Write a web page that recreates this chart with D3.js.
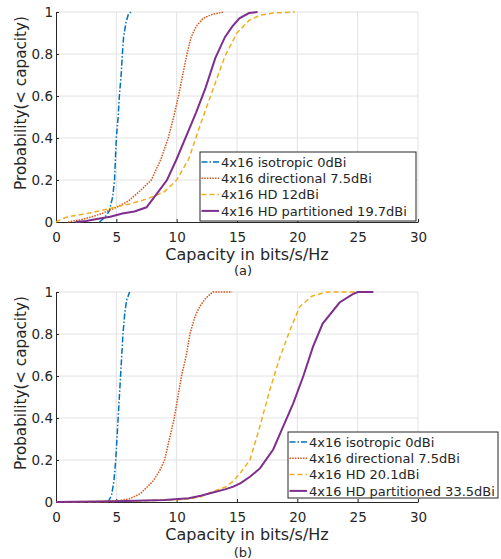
<!DOCTYPE html>
<html><head><meta charset="utf-8">
<script src="https://cdn.jsdelivr.net/npm/d3@7"></script>
<style>body{margin:0;background:#fff}svg{display:block}text{font-family:"DejaVu Sans",Verdana,sans-serif;fill:#262626}</style>
</head><body><svg id="c" width="501" height="559"></svg>
<script>
const xTicks = [0,5,10,15,20,25,30];
const yTicks = [0,0.2,0.4,0.6,0.8,1];
const yTickLabels = ["0","0.2","0.4","0.6","0.8","1"];
const xLabel = "Capacity in bits/s/Hz";
const yLabel = "Probability(< capacity)";
const panelTags = ["(a)","(b)"];
const namesA = ["4x16 isotropic 0dBi","4x16 directional 7.5dBi","4x16 HD 12dBi","4x16 HD partitioned 19.7dBi"];
const namesB = ["4x16 isotropic 0dBi","4x16 directional 7.5dBi","4x16 HD 20.1dBi","4x16 HD partitioned 33.5dBi"];
// [capacity, probability]
const isoA = [[3.6,0],[4.0,0.02],[4.4,0.05],[4.7,0.12],[4.85,0.2],[5.0,0.4],[5.15,0.5],[5.25,0.6],[5.4,0.7],[5.5,0.8],[5.6,0.88],[5.8,0.95],[6.0,0.99],[6.2,1]];
const dirA = [[1.0,0],[2,0.01],[3,0.025],[4,0.045],[5,0.07],[6,0.1],[7,0.15],[7.9,0.2],[8.7,0.3],[9.3,0.4],[9.75,0.5],[10.15,0.6],[10.5,0.7],[10.85,0.8],[11.2,0.88],[11.6,0.93],[12.2,0.97],[13,0.99],[13.9,1]];
const hdA = [[0,0],[0.5,0.015],[1,0.025],[2,0.035],[3,0.045],[4,0.058],[5,0.072],[6,0.085],[7,0.1],[8,0.12],[9,0.145],[10,0.2],[11,0.3],[12,0.47],[13,0.63],[14,0.79],[15,0.9],[15.5,0.93],[16,0.96],[16.9,0.985],[18,0.995],[19.8,1]];
const purpA = [[1.6,0],[2.5,0.005],[3.5,0.015],[4.5,0.025],[5.5,0.04],[6.5,0.05],[7.5,0.07],[8.3,0.13],[9.2,0.2],[10,0.3],[10.8,0.41],[11.6,0.52],[12.4,0.64],[13.2,0.78],[14,0.88],[14.6,0.93],[15.2,0.97],[16,0.995],[16.7,1]];
const isoB = [[4.3,0],[4.6,0.03],[4.8,0.1],[4.95,0.2],[5.15,0.4],[5.35,0.6],[5.55,0.8],[5.7,0.9],[5.85,0.96],[6.1,1]];
const dirB = [[0,0],[3,0.001],[5,0.005],[6.1,0.015],[7,0.04],[8.05,0.1],[8.6,0.15],[9.0,0.2],[9.4,0.3],[9.8,0.4],[10.1,0.5],[10.4,0.6],[10.8,0.7],[11.1,0.8],[11.5,0.88],[11.9,0.93],[12.4,0.97],[13,1],[14.6,1]];
const hdB = [[0,0],[5,0.003],[10,0.01],[11,0.015],[12,0.025],[13,0.05],[14,0.07],[14.7,0.1],[15.3,0.14],[16.07,0.2],[16.9,0.36],[17.7,0.53],[18.56,0.69],[19.4,0.82],[20.2,0.93],[21.2,0.98],[22.4,1],[24.9,1]];
const purpB = [[0,0],[5,0.004],[9,0.01],[11,0.018],[12,0.03],[13,0.045],[14,0.06],[14.7,0.073],[15.3,0.09],[16.07,0.12],[16.9,0.16],[18,0.25],[18.83,0.36],[19.66,0.47],[20.5,0.6],[21.3,0.74],[22.1,0.85],[23.5,0.95],[24.6,0.99],[25,1],[26.3,1]];

const colors = ["#0072BD","#D95319","#EDB120","#7E2F8E"];
const dashes = ["6,2,1.5,2","1.5,1.2","5,3",null];
const widths = [1.5,1.5,1.5,2];

const svg = d3.select("#c");
const panels = [
  {top:12, bottom:222, series:[isoA,dirA,hdA,purpA], names:namesA, tag:panelTags[0], tagDy:53, legend:{x:200,y:152,w:216,h:69}},
  {top:292, bottom:502, series:[isoB,dirB,hdB,purpB], names:namesB, tag:panelTags[1], tagDy:55, legend:{x:288,y:432,w:210,h:66}}
];
panels.forEach(p => {
  const x = d3.scaleLinear().domain([0,30]).range([56,418]);
  const y = d3.scaleLinear().domain([0,1]).range([p.bottom,p.top]);
  const g = svg.append("g");
  g.selectAll(".gx").data(xTicks.slice(1)).join("line")
    .attr("x1",d=>x(d)).attr("x2",d=>x(d)).attr("y1",p.top).attr("y2",p.bottom)
    .attr("stroke","#e2e2e2").attr("stroke-width",1);
  g.selectAll(".gy").data(yTicks.slice(1)).join("line")
    .attr("x1",x(0)).attr("x2",x(30)).attr("y1",d=>y(d)).attr("y2",d=>y(d))
    .attr("stroke","#e2e2e2").attr("stroke-width",1);
  const xa = g.append("g").attr("transform",`translate(0,${p.bottom})`)
    .call(d3.axisBottom(x).tickValues(xTicks).tickSize(-3).tickPadding(10).tickSizeOuter(0));
  const ya = g.append("g").attr("transform",`translate(${x(0)},0)`)
    .call(d3.axisLeft(y).tickValues(yTicks).tickFormat((d,i)=>yTickLabels[i]).tickSize(-3).tickPadding(3).tickSizeOuter(0));
  [xa,ya].forEach(a=>{
    a.select(".domain").attr("stroke","#262626");
    a.selectAll(".tick line").attr("stroke","#262626");
    a.selectAll("text").attr("fill","#262626").style("font-size","13.5px").attr("font-family",null);
  });
  const line = d3.line().x(d=>x(d[0])).y(d=>y(d[1]));
  p.series.forEach((s,i)=>{
    g.append("path").datum(s).attr("d",line).attr("fill","none")
      .attr("stroke",colors[i]).attr("stroke-width",widths[i])
      .attr("stroke-dasharray",dashes[i]);
  });
  g.append("text").attr("x",247).attr("y",p.bottom+38).attr("text-anchor","middle").style("font-size","16px").text(xLabel);
  g.append("text").attr("x",243).attr("y",p.bottom+p.tagDy).attr("text-anchor","middle").style("font-size","13px").text(p.tag);
  g.append("text").attr("transform",`translate(26,${(p.top+p.bottom)/2-14}) rotate(-90)`).attr("text-anchor","middle").style("font-size","15.2px").text(yLabel);
  const L = p.legend;
  const lg = g.append("g");
  lg.append("rect").attr("x",L.x).attr("y",L.y).attr("width",L.w).attr("height",L.h)
    .attr("fill","#fff").attr("stroke","#262626").attr("stroke-width",1);
  p.names.forEach((n,i)=>{
    const yy = L.y + 10 + i*16.3;
    lg.append("line").attr("x1",L.x+1.5).attr("x2",L.x+19).attr("y1",yy).attr("y2",yy)
      .attr("stroke",colors[i]).attr("stroke-width",widths[i]).attr("stroke-dasharray",dashes[i]);
    lg.append("text").attr("x",L.x+21).attr("y",yy+4.7).style("font-size","13px").text(n);
  });
});
</script></body></html>
